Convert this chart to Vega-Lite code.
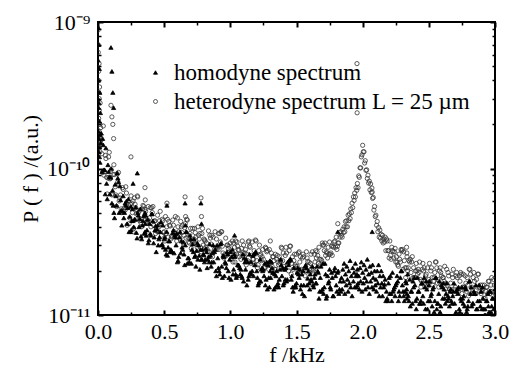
{
"$schema":"https://vega.github.io/schema/vega-lite/v6.json",
"width":397,"height":293,
"autosize":{"type":"none"},
"padding":{"left":98,"top":22,"right":24,"bottom":59},
"config":{
 "view":{"stroke":"black","strokeWidth":2},
 "font":"'Liberation Serif', 'Times New Roman', Times, serif",
 "axis":{"grid":false,"domain":false,"labelFont":"'Liberation Serif', 'Times New Roman', Times, serif","titleFont":"'Liberation Serif', 'Times New Roman', Times, serif","labelColor":"black","titleColor":"black","tickColor":"black","labelFontSize":22,"titleFontSize":22,"titleFontWeight":"normal"}
},
"data":{"values":[
{"f":0,"a":55e-11,"b":88e-11},{"f":0.002,"a":92e-11,"b":62e-11},{"f":0.004,"a":40e-11,"b":46e-11},{"f":0.006,"a":70e-11,"b":33e-11},{"f":0.008,"a":28e-11,"b":52e-11},{"f":0.01,"a":48e-11,"b":25e-11},{"f":0.012,"a":21e-11,"b":36e-11},{"f":0.014,"a":33e-11,"b":20e-11},{"f":0.016,"a":17e-11,"b":28e-11},{"f":0.018,"a":24e-11,"b":15e-11},
{"f":0.001,"a":30e-11,"b":70e-11},{"f":0.003,"a":18e-11,"b":40e-11},{"f":0.005,"a":26e-11,"b":22e-11},{"f":0.007,"a":13e-11,"b":18e-11},{"f":0.009,"a":16e-11,"b":30e-11},{"f":0.011,"a":12e-11,"b":14e-11},{"f":0.013,"a":14e-11,"b":17e-11},{"f":0.015,"a":11e-11,"b":13e-11},
{"f":0.02,"a":15e-11,"b":19e-11},{"f":0.03,"a":9.5e-11,"b":12.6e-11},{"f":0.04,"a":14.5e-11,"b":19.5e-11},{"f":0.05,"a":9.8e-11,"b":9.5e-11},{"f":0.06,"a":13.8e-11,"b":11.7e-11},{"f":0.07,"a":6.2e-11,"b":6.7e-11},{"f":0.08,"a":9.5e-11,"b":12e-11},{"f":0.09,"a":6.7e-11,"b":8.5e-11},{"f":0.1,"a":10e-11,"b":9.8e-11},{"f":0.11,"a":7.1e-11,"b":6.7e-11},{"f":0.12,"a":5.0e-11,"b":10.6e-11},{"f":0.13,"a":7.8e-11,"b":7.5e-11},{"f":0.14,"a":5.6e-11,"b":5.5e-11},{"f":0.15,"a":8.6e-11,"b":8.1e-11},{"f":0.16,"a":5.0e-11,"b":6.0e-11},{"f":0.17,"a":6.1e-11,"b":6.6e-11},{"f":0.18,"a":4.1e-11,"b":5.0e-11},{"f":0.19,"a":6.5e-11,"b":7.2e-11},{"f":0.2,"a":5.0e-11,"b":5.4e-11},{"f":0.21,"a":5.6e-11,"b":7.5e-11},{"f":0.22,"a":4.2e-11,"b":4.1e-11},{"f":0.23,"a":6.2e-11,"b":5.9e-11},{"f":0.24,"a":4.7e-11,"b":4.6e-11},{"f":0.25,"a":3.8e-11,"b":6.5e-11},{"f":0.26,"a":5.3e-11,"b":5.0e-11},{"f":0.27,"a":4.0e-11,"b":3.9e-11},
{"f":0.098,"a":67e-11,"b":27e-11},{"f":0.105,"a":46e-11,"b":22.5e-11},{"f":0.112,"a":33e-11,"b":20e-11},{"f":0.118,"a":26e-11,"b":16e-11},{"f":0.249,"a":5.5e-11,"b":12e-11},{"f":0.265,"a":7.9e-11,"b":6.0e-11},{"f":0.297,"a":9.3e-11,"b":6.5e-11},
{"f":0.28,"a":4.5e-11,"b":5.7e-11},{"f":0.29,"a":3.65e-11,"b":4.9e-11},{"f":0.3,"a":5.0e-11,"b":6.4e-11},{"f":0.31,"a":4.0e-11,"b":4.5e-11},{"f":0.32,"a":5.3e-11,"b":5.2e-11},{"f":0.33,"a":3.3e-11,"b":4.0e-11},{"f":0.34,"a":4.4e-11,"b":5.6e-11},{"f":0.35,"a":3.6e-11,"b":4.7e-11},{"f":0.36,"a":4.8e-11,"b":5.1e-11},{"f":0.37,"a":3.8e-11,"b":4.25e-11},{"f":0.38,"a":3.1e-11,"b":5.5e-11},{"f":0.39,"a":4.2e-11,"b":4.6e-11},{"f":0.4,"a":3.5e-11,"b":4.0e-11},{"f":0.41,"a":4.9e-11,"b":5.0e-11},{"f":0.42,"a":3.1e-11,"b":4.1e-11},{"f":0.43,"a":3.8e-11,"b":4.4e-11},{"f":0.44,"a":2.7e-11,"b":3.75e-11},{"f":0.45,"a":4.1e-11,"b":4.8e-11},{"f":0.46,"a":3.3e-11,"b":4.0e-11},{"f":0.47,"a":3.7e-11,"b":5.1e-11},{"f":0.48,"a":3.0e-11,"b":3.5e-11},{"f":0.49,"a":4.1e-11,"b":4.4e-11},{"f":0.5,"a":3.3e-11,"b":3.7e-11},{"f":0.51,"a":2.8e-11,"b":4.7e-11},{"f":0.52,"a":3.7e-11,"b":4.0e-11},{"f":0.53,"a":2.9e-11,"b":3.4e-11},
{"f":0.355,"a":5.0e-11,"b":7.4e-11},{"f":0.357,"a":4.2e-11,"b":6.1e-11},{"f":0.521,"a":5.6e-11,"b":5.8e-11},
{"f":0.54,"a":3.2e-11,"b":4.1e-11},{"f":0.55,"a":2.8e-11,"b":3.3e-11},{"f":0.56,"a":2.7e-11,"b":3.4e-11},{"f":0.57,"a":3.8e-11,"b":4.1e-11},{"f":0.58,"a":3.5e-11,"b":3.5e-11},{"f":0.59,"a":3.0e-11,"b":3.6e-11},{"f":0.6,"a":2.3e-11,"b":4.6e-11},{"f":0.61,"a":2.5e-11,"b":3.7e-11},{"f":0.62,"a":3.7e-11,"b":3.3e-11},{"f":0.63,"a":3.2e-11,"b":4.0e-11},{"f":0.64,"a":2.8e-11,"b":4.1e-11},{"f":0.65,"a":2.6e-11,"b":3.5e-11},{"f":0.66,"a":3.0e-11,"b":4.2e-11},{"f":0.67,"a":3.7e-11,"b":4.5e-11},{"f":0.68,"a":2.45e-11,"b":3.4e-11},{"f":0.69,"a":2.3e-11,"b":3.1e-11},{"f":0.7,"a":3.3e-11,"b":3.9e-11},{"f":0.71,"a":2.8e-11,"b":3.2e-11},{"f":0.72,"a":2.7e-11,"b":3.2e-11},{"f":0.73,"a":2.5e-11,"b":3.9e-11},{"f":0.74,"a":2.15e-11,"b":3.4e-11},{"f":0.75,"a":3.1e-11,"b":2.9e-11},{"f":0.76,"a":3.0e-11,"b":3.5e-11},{"f":0.77,"a":2.05e-11,"b":3.6e-11},{"f":0.78,"a":2.4e-11,"b":2.7e-11},{"f":0.79,"a":2.8e-11,"b":3.9e-11},
{"f":0.658,"a":5.8e-11,"b":6.4e-11},{"f":0.662,"a":4.1e-11,"b":4.7e-11},{"f":0.778,"a":5.8e-11,"b":6.3e-11},{"f":0.782,"a":4.2e-11,"b":4.7e-11},
{"f":0.8,"a":2.57e-11,"b":3.3e-11},{"f":0.81,"a":2.4e-11,"b":3.2e-11},{"f":0.82,"a":2.7e-11,"b":3.1e-11},{"f":0.83,"a":2.4e-11,"b":2.7e-11},{"f":0.84,"a":2.3e-11,"b":2.7e-11},{"f":0.85,"a":2.55e-11,"b":3.35e-11},{"f":0.86,"a":2.3e-11,"b":3.5e-11},{"f":0.87,"a":3.0e-11,"b":3.4e-11},{"f":0.88,"a":2.7e-11,"b":2.8e-11},{"f":0.89,"a":2.0e-11,"b":2.9e-11},{"f":0.9,"a":3.0e-11,"b":2.8e-11},{"f":0.91,"a":2.1e-11,"b":3.6e-11},{"f":0.92,"a":1.9e-11,"b":3.6e-11},{"f":0.93,"a":3.1e-11,"b":3.7e-11},{"f":0.94,"a":1.8e-11,"b":2.95e-11},{"f":0.95,"a":2.5e-11,"b":2.45e-11},{"f":0.96,"a":2.3e-11,"b":2.6e-11},{"f":0.97,"a":2.1e-11,"b":2.55e-11},{"f":0.98,"a":2.6e-11,"b":3.0e-11},{"f":0.99,"a":1.8e-11,"b":2.95e-11},{"f":1.0,"a":2.7e-11,"b":3.1e-11},{"f":1.01,"a":2.5e-11,"b":2.6e-11},{"f":1.02,"a":1.9e-11,"b":2.3e-11},{"f":1.03,"a":2.6e-11,"b":2.6e-11},{"f":1.04,"a":1.9e-11,"b":3.2e-11},{"f":1.05,"a":1.85e-11,"b":3.15e-11},
{"f":1.032,"a":3.5e-11,"b":2.9e-11},
{"f":1.06,"a":2.2e-11,"b":2.8e-11},{"f":1.07,"a":2.1e-11,"b":2.5e-11},{"f":1.08,"a":2.05e-11,"b":2.4e-11},{"f":1.09,"a":1.8e-11,"b":3.2e-11},{"f":1.1,"a":1.7e-11,"b":3.0e-11},{"f":1.11,"a":2.3e-11,"b":2.65e-11},{"f":1.12,"a":2.4e-11,"b":2.2e-11},{"f":1.13,"a":2.3e-11,"b":2.35e-11},{"f":1.14,"a":1.85e-11,"b":3.2e-11},{"f":1.15,"a":1.95e-11,"b":2.9e-11},{"f":1.16,"a":1.9e-11,"b":2.55e-11},{"f":1.17,"a":2.55e-11,"b":2.4e-11},{"f":1.18,"a":2.6e-11,"b":2.75e-11},{"f":1.19,"a":2.7e-11,"b":3.25e-11},{"f":1.2,"a":2.0e-11,"b":2.35e-11},{"f":1.21,"a":1.6e-11,"b":2.2e-11},{"f":1.22,"a":1.7e-11,"b":3.0e-11},{"f":1.23,"a":1.7e-11,"b":2.6e-11},{"f":1.24,"a":2.1e-11,"b":2.5e-11},{"f":1.25,"a":2.05e-11,"b":2.4e-11},{"f":1.26,"a":2.25e-11,"b":2.1e-11},{"f":1.27,"a":1.75e-11,"b":2.85e-11},{"f":1.28,"a":1.5e-11,"b":2.75e-11},{"f":1.29,"a":1.8e-11,"b":2.05e-11},{"f":1.3,"a":2.35e-11,"b":2.3e-11},{"f":1.31,"a":2.3e-11,"b":2.65e-11},
{"f":1.302,"a":2.0e-11,"b":3.2e-11},
{"f":1.32,"a":1.95e-11,"b":2.5e-11},{"f":1.33,"a":1.5e-11,"b":2.35e-11},{"f":1.34,"a":1.55e-11,"b":2.6e-11},{"f":1.35,"a":2.0e-11,"b":2.4e-11},{"f":1.36,"a":1.65e-11,"b":2.3e-11},{"f":1.37,"a":1.75e-11,"b":2.5e-11},{"f":1.38,"a":2.4e-11,"b":2.35e-11},{"f":1.39,"a":1.85e-11,"b":2.85e-11},{"f":1.4,"a":1.6e-11,"b":2.65e-11},{"f":1.41,"a":2.05e-11,"b":2.05e-11},{"f":1.42,"a":2.1e-11,"b":2.9e-11},{"f":1.43,"a":1.75e-11,"b":2.2e-11},{"f":1.44,"a":2.2e-11,"b":2.0e-11},{"f":1.45,"a":2.4e-11,"b":2.95e-11},{"f":1.46,"a":1.75e-11,"b":1.9e-11},{"f":1.47,"a":1.55e-11,"b":2.5e-11},{"f":1.48,"a":2.1e-11,"b":2.35e-11},{"f":1.49,"a":1.6e-11,"b":2.2e-11},{"f":1.5,"a":1.65e-11,"b":2.6e-11},{"f":1.51,"a":2.1e-11,"b":1.95e-11},{"f":1.52,"a":1.8e-11,"b":2.7e-11},{"f":1.53,"a":1.5e-11,"b":2.5e-11},{"f":1.54,"a":1.9e-11,"b":2.05e-11},{"f":1.55,"a":2.0e-11,"b":2.6e-11},{"f":1.56,"a":1.35e-11,"b":2.05e-11},{"f":1.57,"a":2.2e-11,"b":2.0e-11},
{"f":1.58,"a":1.6e-11,"b":2.45e-11},{"f":1.59,"a":2.0e-11,"b":2.15e-11},{"f":1.6,"a":1.5e-11,"b":1.95e-11},{"f":1.61,"a":1.75e-11,"b":2.6e-11},{"f":1.62,"a":2.15e-11,"b":2.7e-11},{"f":1.63,"a":1.55e-11,"b":2.05e-11},{"f":1.64,"a":1.9e-11,"b":2.3e-11},{"f":1.65,"a":1.65e-11,"b":2.45e-11},{"f":1.66,"a":2.0e-11,"b":2.55e-11},{"f":1.67,"a":1.3e-11,"b":2.9e-11},{"f":1.68,"a":1.8e-11,"b":2.2e-11},{"f":1.69,"a":1.45e-11,"b":2.35e-11},{"f":1.7,"a":2.25e-11,"b":3.0e-11},{"f":1.71,"a":1.55e-11,"b":2.75e-11},{"f":1.72,"a":1.9e-11,"b":2.55e-11},{"f":1.73,"a":1.35e-11,"b":2.65e-11},{"f":1.74,"a":1.65e-11,"b":2.9e-11},{"f":1.75,"a":2.05e-11,"b":3.15e-11},{"f":1.76,"a":1.5e-11,"b":2.65e-11},{"f":1.77,"a":1.8e-11,"b":2.55e-11},{"f":1.78,"a":1.35e-11,"b":2.9e-11},{"f":1.79,"a":2.1e-11,"b":3.2e-11},{"f":1.8,"a":1.6e-11,"b":3.4e-11},{"f":1.81,"a":1.95e-11,"b":2.95e-11},{"f":1.82,"a":1.4e-11,"b":3.1e-11},{"f":1.83,"a":1.7e-11,"b":3.4e-11},
{"f":1.812,"a":3.7e-11,"b":4.2e-11},
{"f":1.84,"a":1.8e-11,"b":3.5e-11},{"f":1.845,"a":1.5e-11,"b":3.4e-11},{"f":1.85,"a":2.05e-11,"b":3.85e-11},{"f":1.855,"a":1.7e-11,"b":3.65e-11},{"f":1.86,"a":2.25e-11,"b":4.0e-11},{"f":1.865,"a":1.4e-11,"b":3.7e-11},{"f":1.87,"a":1.9e-11,"b":4.35e-11},{"f":1.875,"a":1.6e-11,"b":4.0e-11},{"f":1.88,"a":2.15e-11,"b":4.4e-11},{"f":1.885,"a":1.75e-11,"b":4.0e-11},{"f":1.89,"a":1.45e-11,"b":4.8e-11},{"f":1.895,"a":2.0e-11,"b":4.4e-11},{"f":1.9,"a":1.65e-11,"b":4.9e-11},{"f":1.905,"a":2.35e-11,"b":4.55e-11},{"f":1.91,"a":1.55e-11,"b":5.3e-11},{"f":1.915,"a":1.85e-11,"b":5.0e-11},{"f":1.92,"a":1.35e-11,"b":5.8e-11},{"f":1.925,"a":2.1e-11,"b":5.4e-11},{"f":1.93,"a":1.7e-11,"b":6.4e-11},{"f":1.935,"a":1.95e-11,"b":6.05e-11},{"f":1.94,"a":1.55e-11,"b":6.8e-11},{"f":1.945,"a":2.25e-11,"b":6.4e-11},{"f":1.95,"a":1.85e-11,"b":7.4e-11},{"f":1.955,"a":1.55e-11,"b":7.1e-11},{"f":1.96,"a":2.05e-11,"b":7.9e-11},{"f":1.965,"a":1.65e-11,"b":7.4e-11},{"f":1.97,"a":1.85e-11,"b":8.9e-11},{"f":1.975,"a":1.5e-11,"b":8.7e-11},{"f":1.98,"a":2.1e-11,"b":10.1e-11},{"f":1.985,"a":1.7e-11,"b":10.1e-11},{"f":1.99,"a":2.3e-11,"b":12.0e-11},{"f":1.995,"a":1.45e-11,"b":12.4e-11},{"f":2.0,"a":1.95e-11,"b":14.4e-11},{"f":2.005,"a":1.65e-11,"b":13.0e-11},{"f":2.01,"a":2.2e-11,"b":13.0e-11},{"f":2.015,"a":1.8e-11,"b":10.9e-11},{"f":2.02,"a":1.5e-11,"b":11.3e-11},{"f":2.025,"a":2.05e-11,"b":9.7e-11},{"f":2.03,"a":1.7e-11,"b":9.8e-11},{"f":2.035,"a":2.4e-11,"b":8.55e-11},{"f":2.04,"a":1.55e-11,"b":9.0e-11},{"f":2.045,"a":1.9e-11,"b":7.95e-11},{"f":2.05,"a":1.4e-11,"b":8.2e-11},{"f":2.055,"a":2.15e-11,"b":7.15e-11},{"f":2.06,"a":1.7e-11,"b":7.85e-11},{"f":2.065,"a":1.95e-11,"b":6.85e-11},{"f":2.07,"a":1.55e-11,"b":7.35e-11},{"f":2.075,"a":2.2e-11,"b":6.25e-11},{"f":2.08,"a":1.8e-11,"b":6.35e-11},{"f":2.085,"a":1.5e-11,"b":5.2e-11},{"f":2.09,"a":2.0e-11,"b":5.5e-11},{"f":2.095,"a":1.6e-11,"b":4.7e-11},{"f":2.1,"a":1.75e-11,"b":4.8e-11},{"f":2.105,"a":1.45e-11,"b":4.1e-11},{"f":2.11,"a":2.0e-11,"b":4.35e-11},{"f":2.115,"a":1.65e-11,"b":3.7e-11},{"f":2.12,"a":2.2e-11,"b":3.95e-11},{"f":2.125,"a":1.35e-11,"b":3.4e-11},{"f":2.13,"a":1.85e-11,"b":3.8e-11},{"f":2.135,"a":1.55e-11,"b":3.35e-11},{"f":2.14,"a":2.0e-11,"b":3.55e-11},{"f":2.145,"a":1.65e-11,"b":3.2e-11},{"f":2.15,"a":1.35e-11,"b":3.5e-11},{"f":2.155,"a":1.85e-11,"b":3.1e-11},{"f":2.16,"a":1.55e-11,"b":3.3e-11},
{"f":1.957,"a":1.9e-11,"b":52e-11},{"f":1.958,"a":1.6e-11,"b":24e-11},{"f":2.072,"a":3.7e-11,"b":6.9e-11},
{"f":2.17,"a":1.75e-11,"b":3.4e-11},{"f":2.18,"a":1.45e-11,"b":3.3e-11},{"f":2.19,"a":1.25e-11,"b":2.75e-11},{"f":2.2,"a":1.8e-11,"b":2.45e-11},{"f":2.21,"a":1.85e-11,"b":2.55e-11},{"f":2.22,"a":1.25e-11,"b":2.9e-11},{"f":2.23,"a":1.45e-11,"b":2.7e-11},{"f":2.24,"a":1.55e-11,"b":2.7e-11},{"f":2.25,"a":1.6e-11,"b":2.3e-11},{"f":2.26,"a":1.85e-11,"b":2.3e-11},{"f":2.27,"a":1.25e-11,"b":2.15e-11},{"f":2.28,"a":1.35e-11,"b":2.4e-11},{"f":2.29,"a":2.0e-11,"b":2.8e-11},{"f":2.3,"a":1.6e-11,"b":2.8e-11},{"f":2.31,"a":1.35e-11,"b":2.7e-11},{"f":2.32,"a":1.45e-11,"b":2.1e-11},{"f":2.33,"a":1.65e-11,"b":2.1e-11},{"f":2.34,"a":1.9e-11,"b":2.0e-11},{"f":2.35,"a":1.25e-11,"b":2.35e-11},{"f":2.36,"a":1.15e-11,"b":2.4e-11},{"f":2.37,"a":1.45e-11,"b":2.3e-11},{"f":2.38,"a":1.7e-11,"b":1.8e-11},{"f":2.39,"a":1.8e-11,"b":1.8e-11},{"f":2.4,"a":1.25e-11,"b":2.0e-11},{"f":2.41,"a":1.3e-11,"b":2.0e-11},{"f":2.42,"a":1.45e-11,"b":2.05e-11},
{"f":2.332,"a":1.5e-11,"b":2.9e-11},{"f":2.334,"a":1.4e-11,"b":2.65e-11},
{"f":2.43,"a":1.2e-11,"b":2.3e-11},{"f":2.44,"a":1.25e-11,"b":1.55e-11},{"f":2.45,"a":1.65e-11,"b":2.05e-11},{"f":2.46,"a":1.2e-11,"b":2.0e-11},{"f":2.47,"a":1.55e-11,"b":1.65e-11},{"f":2.48,"a":1.7e-11,"b":1.9e-11},{"f":2.49,"a":1.1e-11,"b":2.1e-11},{"f":2.5,"a":1.6e-11,"b":1.75e-11},{"f":2.51,"a":1.25e-11,"b":1.7e-11},{"f":2.52,"a":1.4e-11,"b":2.1e-11},{"f":2.53,"a":1.5e-11,"b":1.6e-11},{"f":2.54,"a":1.05e-11,"b":1.8e-11},{"f":2.55,"a":1.8e-11,"b":2.3e-11},{"f":2.56,"a":1.1e-11,"b":2.1e-11},{"f":2.57,"a":1.2e-11,"b":1.75e-11},{"f":2.58,"a":1.7e-11,"b":2.0e-11},{"f":2.59,"a":1.15e-11,"b":1.95e-11},{"f":2.6,"a":1.55e-11,"b":1.6e-11},{"f":2.61,"a":1.65e-11,"b":1.8e-11},{"f":2.62,"a":1.3e-11,"b":2.15e-11},{"f":2.63,"a":1.4e-11,"b":1.65e-11},{"f":2.64,"a":1.25e-11,"b":1.6e-11},{"f":2.65,"a":1.3e-11,"b":1.85e-11},{"f":2.66,"a":1.45e-11,"b":1.5e-11},{"f":2.67,"a":1.25e-11,"b":1.45e-11},{"f":2.68,"a":1.35e-11,"b":1.8e-11},
{"f":2.69,"a":1.65e-11,"b":1.5e-11},{"f":2.7,"a":1.0e-11,"b":1.55e-11},{"f":2.71,"a":1.45e-11,"b":1.95e-11},{"f":2.72,"a":1.4e-11,"b":1.5e-11},{"f":2.73,"a":1.1e-11,"b":1.85e-11},{"f":2.74,"a":1.3e-11,"b":1.95e-11},{"f":2.75,"a":1.55e-11,"b":1.4e-11},{"f":2.76,"a":1.2e-11,"b":1.9e-11},{"f":2.77,"a":1.15e-11,"b":1.55e-11},{"f":2.78,"a":1.5e-11,"b":1.65e-11},{"f":2.79,"a":1.1e-11,"b":1.8e-11},{"f":2.8,"a":1.25e-11,"b":1.35e-11},{"f":2.81,"a":1.7e-11,"b":2.05e-11},{"f":2.82,"a":1.55e-11,"b":1.4e-11},{"f":2.83,"a":1.2e-11,"b":1.5e-11},{"f":2.84,"a":1.45e-11,"b":1.95e-11},{"f":2.85,"a":1.4e-11,"b":1.4e-11},{"f":2.86,"a":1.1e-11,"b":1.75e-11},{"f":2.87,"a":1.25e-11,"b":1.9e-11},{"f":2.88,"a":1.6e-11,"b":1.55e-11},{"f":2.89,"a":1.15e-11,"b":1.6e-11},{"f":2.9,"a":1.1e-11,"b":1.45e-11},{"f":2.91,"a":1.3e-11,"b":1.5e-11},{"f":2.92,"a":1.0e-11,"b":1.6e-11},{"f":2.93,"a":1.0e-11,"b":1.45e-11},{"f":2.94,"a":1.25e-11,"b":1.55e-11},
{"f":2.95,"a":1.15e-11,"b":1.7e-11},{"f":2.96,"a":1.45e-11,"b":1.4e-11},{"f":2.97,"a":1.05e-11,"b":1.6e-11},{"f":2.98,"a":1.3e-11,"b":1.45e-11},{"f":2.99,"a":1.1e-11,"b":1.75e-11},{"f":3.0,"a":1.5e-11,"b":1.4e-11},
{"f":0.025,"a":17.4e-11,"b":15.7e-11},{"f":0.035,"a":16e-11,"b":9.4e-11},{"f":0.045,"a":9.8e-11,"b":9.0e-11},{"f":0.055,"a":6.7e-11,"b":12.3e-11},{"f":0.065,"a":7.9e-11,"b":8.7e-11},{"f":0.075,"a":10.6e-11,"b":8.6e-11},{"f":0.085,"a":8.8e-11,"b":12.9e-11},{"f":0.095,"a":8.7e-11,"b":8.6e-11},{"f":0.105,"a":5.8e-11,"b":6.6e-11},{"f":0.115,"a":5.6e-11,"b":9.1e-11},{"f":0.125,"a":4.6e-11,"b":9.1e-11},{"f":0.135,"a":6.5e-11,"b":6.6e-11},{"f":0.145,"a":9.3e-11,"b":9.2e-11},{"f":0.155,"a":8.1e-11,"b":9.4e-11},{"f":0.165,"a":7.6e-11,"b":6.3e-11},{"f":0.175,"a":5.2e-11,"b":5.3e-11},{"f":0.185,"a":5.1e-11,"b":7.4e-11},{"f":0.195,"a":4.6e-11,"b":5.1e-11},{"f":0.205,"a":5.8e-11,"b":5.2e-11},{"f":0.215,"a":6.0e-11,"b":6.8e-11},{"f":0.225,"a":5.4e-11,"b":5.4e-11},{"f":0.235,"a":3.7e-11,"b":4.2e-11},{"f":0.245,"a":3.7e-11,"b":5.7e-11},{"f":0.255,"a":4.4e-11,"b":5.8e-11},{"f":0.265,"a":4.4e-11,"b":3.7e-11},{"f":0.275,"a":4.5e-11,"b":6.3e-11},
{"f":0.285,"a":5.45e-11,"b":5.4e-11},{"f":0.295,"a":3.35e-11,"b":5.2e-11},{"f":0.305,"a":4.8e-11,"b":5.0e-11},{"f":0.315,"a":4.55e-11,"b":4.4e-11},{"f":0.325,"a":3.45e-11,"b":4.25e-11},{"f":0.335,"a":4.1e-11,"b":5.3e-11},{"f":0.345,"a":4.75e-11,"b":5.5e-11},{"f":0.355,"a":3.7e-11,"b":5.25e-11},{"f":0.365,"a":3.5e-11,"b":4.3e-11},{"f":0.375,"a":4.5e-11,"b":4.45e-11},{"f":0.385,"a":3.25e-11,"b":4.3e-11},{"f":0.395,"a":3.6e-11,"b":5.4e-11},{"f":0.405,"a":4.9e-11,"b":5.4e-11},{"f":0.415,"a":4.4e-11,"b":5.5e-11},{"f":0.425,"a":3.4e-11,"b":4.35e-11},{"f":0.435,"a":4.05e-11,"b":3.6e-11},{"f":0.445,"a":3.85e-11,"b":3.75e-11},{"f":0.455,"a":3.0e-11,"b":3.7e-11},{"f":0.465,"a":3.4e-11,"b":4.4e-11},{"f":0.475,"a":4.3e-11,"b":4.2e-11},{"f":0.485,"a":3.05e-11,"b":4.5e-11},{"f":0.495,"a":2.9e-11,"b":3.65e-11},{"f":0.505,"a":3.4e-11,"b":3.2e-11},{"f":0.515,"a":2.6e-11,"b":3.6e-11},{"f":0.525,"a":2.55e-11,"b":4.5e-11},{"f":0.535,"a":3.2e-11,"b":4.35e-11},
{"f":0.545,"a":2.7e-11,"b":4.05e-11},{"f":0.555,"a":2.75e-11,"b":3.45e-11},{"f":0.565,"a":3.65e-11,"b":4.45e-11},{"f":0.575,"a":2.65e-11,"b":3.7e-11},{"f":0.585,"a":3.4e-11,"b":4.7e-11},{"f":0.595,"a":3.6e-11,"b":3.2e-11},{"f":0.605,"a":2.35e-11,"b":4.0e-11},{"f":0.615,"a":3.4e-11,"b":3.45e-11},{"f":0.625,"a":2.65e-11,"b":4.35e-11},{"f":0.635,"a":2.9e-11,"b":3.65e-11},{"f":0.645,"a":3.15e-11,"b":3.1e-11},{"f":0.655,"a":2.2e-11,"b":3.95e-11},{"f":0.665,"a":3.7e-11,"b":3.35e-11},{"f":0.675,"a":2.25e-11,"b":4.45e-11},{"f":0.685,"a":2.45e-11,"b":3.15e-11},{"f":0.695,"a":3.5e-11,"b":3.6e-11},{"f":0.705,"a":2.25e-11,"b":2.85e-11},{"f":0.715,"a":3.05e-11,"b":3.9e-11},{"f":0.725,"a":3.3e-11,"b":3.3e-11},{"f":0.735,"a":2.55e-11,"b":3.65e-11},{"f":0.745,"a":2.75e-11,"b":3.05e-11},{"f":0.755,"a":2.4e-11,"b":4.0e-11},{"f":0.765,"a":2.55e-11,"b":3.3e-11},{"f":0.775,"a":2.8e-11,"b":2.9e-11},{"f":0.785,"a":2.4e-11,"b":3.6e-11},{"f":0.795,"a":2.6e-11,"b":3.0e-11},
{"f":0.805,"a":2.3e-11,"b":3.25e-11},{"f":0.815,"a":2.85e-11,"b":2.9e-11},{"f":0.825,"a":2.1e-11,"b":2.8e-11},{"f":0.835,"a":2.5e-11,"b":3.75e-11},{"f":0.845,"a":3.05e-11,"b":3.5e-11},{"f":0.855,"a":2.15e-11,"b":3.05e-11},{"f":0.865,"a":2.65e-11,"b":2.5e-11},{"f":0.875,"a":2.3e-11,"b":2.7e-11},{"f":0.885,"a":2.8e-11,"b":3.7e-11},{"f":0.895,"a":1.85e-11,"b":3.3e-11},{"f":0.905,"a":2.45e-11,"b":2.9e-11},{"f":0.915,"a":2.0e-11,"b":2.8e-11},{"f":0.925,"a":3.05e-11,"b":3.15e-11},{"f":0.935,"a":2.15e-11,"b":3.7e-11},{"f":0.945,"a":2.55e-11,"b":2.65e-11},{"f":0.955,"a":1.85e-11,"b":2.5e-11},{"f":0.965,"a":2.25e-11,"b":3.35e-11},{"f":0.975,"a":2.7e-11,"b":3.0e-11},{"f":0.985,"a":2.0e-11,"b":2.85e-11},{"f":0.995,"a":2.4e-11,"b":2.7e-11},{"f":1.005,"a":1.75e-11,"b":2.4e-11},{"f":1.015,"a":2.8e-11,"b":3.2e-11},{"f":1.025,"a":2.05e-11,"b":3.1e-11},{"f":1.035,"a":2.5e-11,"b":2.3e-11},{"f":1.045,"a":1.8e-11,"b":2.6e-11},{"f":1.055,"a":2.2e-11,"b":2.95e-11},
{"f":1.065,"a":2.18e-11,"b":2.77e-11},{"f":1.075,"a":1.9e-11,"b":2.6e-11},{"f":1.085,"a":1.85e-11,"b":2.85e-11},{"f":1.095,"a":2.6e-11,"b":2.65e-11},{"f":1.105,"a":2.45e-11,"b":2.5e-11},{"f":1.115,"a":2.05e-11,"b":2.8e-11},{"f":1.125,"a":1.6e-11,"b":2.6e-11},{"f":1.135,"a":1.75e-11,"b":3.15e-11},{"f":1.145,"a":2.6e-11,"b":2.95e-11},{"f":1.155,"a":2.3e-11,"b":2.25e-11},{"f":1.165,"a":2.0e-11,"b":3.15e-11},{"f":1.175,"a":1.85e-11,"b":2.4e-11},{"f":1.185,"a":2.2e-11,"b":2.2e-11},{"f":1.195,"a":2.65e-11,"b":3.2e-11},{"f":1.205,"a":1.8e-11,"b":2.1e-11},{"f":1.215,"a":1.65e-11,"b":2.75e-11},{"f":1.225,"a":2.4e-11,"b":2.55e-11},{"f":1.235,"a":2.05e-11,"b":2.35e-11},{"f":1.245,"a":2.0e-11,"b":2.8e-11},{"f":1.255,"a":1.85e-11,"b":2.1e-11},{"f":1.265,"a":1.6e-11,"b":2.9e-11},{"f":1.275,"a":2.3e-11,"b":2.7e-11},{"f":1.285,"a":2.2e-11,"b":2.2e-11},{"f":1.295,"a":1.55e-11,"b":2.8e-11},{"f":1.305,"a":1.8e-11,"b":2.25e-11},{"f":1.315,"a":2.1e-11,"b":2.15e-11},
{"f":1.325,"a":1.95e-11,"b":2.5e-11},{"f":1.335,"a":1.9e-11,"b":2.05e-11},{"f":1.345,"a":1.85e-11,"b":2.05e-11},{"f":1.355,"a":1.6e-11,"b":2.55e-11},{"f":1.365,"a":1.55e-11,"b":2.2e-11},{"f":1.375,"a":2.05e-11,"b":2.25e-11},{"f":1.385,"a":2.2e-11,"b":2.9e-11},{"f":1.395,"a":2.1e-11,"b":2.35e-11},{"f":1.405,"a":1.65e-11,"b":2.15e-11},{"f":1.415,"a":1.75e-11,"b":2.55e-11},{"f":1.425,"a":1.7e-11,"b":2.65e-11},{"f":1.435,"a":2.3e-11,"b":2.25e-11},{"f":1.445,"a":2.35e-11,"b":2.75e-11},{"f":1.455,"a":2.4e-11,"b":2.95e-11},{"f":1.465,"a":1.85e-11,"b":2.25e-11},{"f":1.475,"a":1.45e-11,"b":2.05e-11},{"f":1.485,"a":1.55e-11,"b":2.6e-11},{"f":1.495,"a":1.55e-11,"b":2.15e-11},{"f":1.505,"a":1.95e-11,"b":2.15e-11},{"f":1.515,"a":1.9e-11,"b":2.65e-11},{"f":1.525,"a":2.05e-11,"b":2.3e-11},{"f":1.535,"a":1.6e-11,"b":2.0e-11},{"f":1.545,"a":1.4e-11,"b":2.45e-11},{"f":1.555,"a":1.6e-11,"b":2.5e-11},{"f":1.565,"a":2.15e-11,"b":1.85e-11},{"f":1.575,"a":2.1e-11,"b":2.7e-11},
{"f":1.585,"a":1.78e-11,"b":2.32e-11},{"f":1.595,"a":1.65e-11,"b":2.3e-11},{"f":1.605,"a":1.9e-11,"b":2.25e-11},{"f":1.615,"a":1.7e-11,"b":2.05e-11},{"f":1.625,"a":1.6e-11,"b":2.0e-11},{"f":1.635,"a":1.8e-11,"b":2.6e-11},{"f":1.645,"a":1.65e-11,"b":2.75e-11},{"f":1.655,"a":2.15e-11,"b":2.7e-11},{"f":1.665,"a":1.95e-11,"b":2.25e-11},{"f":1.675,"a":1.45e-11,"b":2.4e-11},{"f":1.685,"a":2.15e-11,"b":2.4e-11},{"f":1.695,"a":1.5e-11,"b":3.1e-11},{"f":1.705,"a":1.4e-11,"b":3.0e-11},{"f":1.715,"a":2.25e-11,"b":3.1e-11},{"f":1.725,"a":1.3e-11,"b":2.7e-11},{"f":1.735,"a":1.85e-11,"b":2.45e-11},{"f":1.745,"a":1.7e-11,"b":2.6e-11},{"f":1.755,"a":1.55e-11,"b":2.6e-11},{"f":1.765,"a":1.95e-11,"b":2.95e-11},{"f":1.775,"a":1.35e-11,"b":2.95e-11},{"f":1.785,"a":2.0e-11,"b":3.15e-11},{"f":1.795,"a":1.85e-11,"b":2.9e-11},{"f":1.805,"a":1.45e-11,"b":2.8e-11},{"f":1.815,"a":2.0e-11,"b":3.1e-11},{"f":1.825,"a":1.5e-11,"b":3.65e-11},{"f":1.835,"a":1.45e-11,"b":3.7e-11},
{"f":2.165,"a":1.62e-11,"b":3.15e-11},{"f":2.175,"a":1.25e-11,"b":2.75e-11},{"f":2.185,"a":1.3e-11,"b":3.2e-11},{"f":2.195,"a":1.65e-11,"b":2.75e-11},{"f":2.205,"a":1.4e-11,"b":3.2e-11},{"f":2.215,"a":1.4e-11,"b":2.4e-11},{"f":2.225,"a":1.95e-11,"b":2.75e-11},{"f":2.235,"a":1.5e-11,"b":2.45e-11},{"f":2.245,"a":1.35e-11,"b":2.85e-11},{"f":2.255,"a":1.65e-11,"b":2.5e-11},{"f":2.265,"a":1.7e-11,"b":2.2e-11},{"f":2.275,"a":1.45e-11,"b":2.6e-11},{"f":2.285,"a":1.8e-11,"b":2.3e-11},{"f":2.295,"a":2.0e-11,"b":2.75e-11},{"f":2.305,"a":1.45e-11,"b":2.05e-11},{"f":2.315,"a":1.25e-11,"b":2.35e-11},{"f":2.325,"a":1.7e-11,"b":1.8e-11},{"f":2.335,"a":1.3e-11,"b":2.5e-11},{"f":2.345,"a":1.35e-11,"b":2.1e-11},{"f":2.355,"a":1.75e-11,"b":2.3e-11},{"f":2.365,"a":1.45e-11,"b":1.95e-11},{"f":2.375,"a":1.2e-11,"b":2.5e-11},{"f":2.385,"a":1.55e-11,"b":2.1e-11},{"f":2.395,"a":1.6e-11,"b":1.8e-11},{"f":2.405,"a":1.1e-11,"b":2.25e-11},{"f":2.415,"a":1.8e-11,"b":1.9e-11},
{"f":2.425,"a":1.45e-11,"b":1.95e-11},{"f":2.435,"a":1.2e-11,"b":1.75e-11},{"f":2.445,"a":1.65e-11,"b":1.7e-11},{"f":2.455,"a":1.35e-11,"b":2.25e-11},{"f":2.465,"a":1.8e-11,"b":2.1e-11},{"f":2.475,"a":1.1e-11,"b":1.85e-11},{"f":2.485,"a":1.5e-11,"b":1.55e-11},{"f":2.495,"a":1.25e-11,"b":1.65e-11},{"f":2.505,"a":1.7e-11,"b":2.25e-11},{"f":2.515,"a":1.35e-11,"b":2.0e-11},{"f":2.525,"a":1.15e-11,"b":1.8e-11},{"f":2.535,"a":1.55e-11,"b":1.7e-11},{"f":2.545,"a":1.25e-11,"b":1.95e-11},{"f":2.555,"a":1.8e-11,"b":2.3e-11},{"f":2.565,"a":1.2e-11,"b":1.65e-11},{"f":2.575,"a":1.4e-11,"b":1.55e-11},{"f":2.585,"a":1.05e-11,"b":2.1e-11},{"f":2.595,"a":1.6e-11,"b":1.85e-11},{"f":2.605,"a":1.3e-11,"b":1.8e-11},{"f":2.615,"a":1.5e-11,"b":1.7e-11},{"f":2.625,"a":1.2e-11,"b":1.5e-11},{"f":2.635,"a":1.65e-11,"b":2.05e-11},{"f":2.645,"a":1.35e-11,"b":1.95e-11},{"f":2.655,"a":1.15e-11,"b":1.5e-11},{"f":2.665,"a":1.5e-11,"b":1.65e-11},{"f":2.675,"a":1.2e-11,"b":1.9e-11},
{"f":2.685,"a":1.45e-11,"b":2.05e-11},{"f":2.695,"a":1.2e-11,"b":1.4e-11},{"f":2.705,"a":1.05e-11,"b":1.85e-11},{"f":2.715,"a":1.5e-11,"b":1.8e-11},{"f":2.725,"a":1.55e-11,"b":1.45e-11},{"f":2.735,"a":1.05e-11,"b":1.7e-11},{"f":2.745,"a":1.25e-11,"b":1.9e-11},{"f":2.755,"a":1.3e-11,"b":1.55e-11},{"f":2.765,"a":1.35e-11,"b":1.5e-11},{"f":2.775,"a":1.55e-11,"b":1.85e-11},{"f":2.785,"a":1.05e-11,"b":1.45e-11},{"f":2.795,"a":1.15e-11,"b":1.6e-11},{"f":2.805,"a":1.7e-11,"b":2.05e-11},{"f":2.815,"a":1.4e-11,"b":1.9e-11},{"f":2.825,"a":1.15e-11,"b":1.55e-11},{"f":2.835,"a":1.2e-11,"b":1.8e-11},{"f":2.845,"a":1.4e-11,"b":1.7e-11},{"f":2.855,"a":1.6e-11,"b":1.4e-11},{"f":2.865,"a":1.1e-11,"b":1.55e-11},{"f":2.875,"a":0.97e-11,"b":1.9e-11},{"f":2.885,"a":1.25e-11,"b":1.45e-11},{"f":2.895,"a":1.45e-11,"b":1.4e-11},{"f":2.905,"a":1.55e-11,"b":1.6e-11},{"f":2.915,"a":1.1e-11,"b":1.3e-11},{"f":2.925,"a":1.1e-11,"b":1.3e-11},{"f":2.935,"a":1.25e-11,"b":1.55e-11},
{"f":2.945,"a":1.4e-11,"b":1.4e-11},{"f":2.955,"a":1.05e-11,"b":1.7e-11},{"f":2.965,"a":1.45e-11,"b":1.45e-11},{"f":2.975,"a":1.15e-11,"b":1.8e-11},{"f":2.985,"a":1.3e-11,"b":1.35e-11},{"f":2.995,"a":1.0e-11,"b":1.6e-11}
]},
"transform":[{"fold":["b","a"],"as":["series","p"]}],
"resolve":{"axis":{"x":"independent","y":"independent"}},
"layer":[
 {"mark":{"type":"point","size":18,"strokeWidth":0.8,"opacity":1,"clip":true},
  "encoding":{
   "x":{"field":"f","type":"quantitative","scale":{"domain":[0,3],"nice":false,"zero":false},
        "axis":{"orient":"bottom","values":[0,0.5,1,1.5,2,2.5,3],"format":".1f","ticks":false,"labelFlush":false,"labelPadding":6,"title":"f /kHz","titlePadding":2}},
   "y":{"field":"p","type":"quantitative","scale":{"type":"log","domain":[1e-11,1e-9],"nice":false},
        "axis":{"orient":"left","values":[1e-11,1e-10,1e-9],"ticks":false,"labelPadding":8,"labelExpr":"datum.value < 5e-11 ? '10⁻¹¹' : datum.value < 5e-10 ? '10⁻¹⁰' : '10⁻⁹'","title":"P ( f ) /(a.u.)","titlePadding":4}},
   "shape":{"field":"series","type":"nominal","scale":{"domain":["a","b"],"range":["triangle-up","circle"]},
     "legend":{"title":null,"orient":"none","legendX":46,"legendY":39,"padding":0,"labelExpr":"datum.value == 'a' ? 'homodyne spectrum' : 'heterodyne spectrum L = 25 µm'","labelFont":"'Liberation Serif', 'Times New Roman', Times, serif","labelFontSize":23,"labelColor":"black","labelLimit":0,"labelOffset":7,"rowPadding":5,"symbolSize":16,"symbolStrokeWidth":0.8}},
   "fill":{"field":"series","type":"nominal","scale":{"domain":["a","b"],"range":["black","transparent"]},
     "legend":{"title":null,"orient":"none","legendX":46,"legendY":39,"padding":0,"labelExpr":"datum.value == 'a' ? 'homodyne spectrum' : 'heterodyne spectrum L = 25 µm'","labelFont":"'Liberation Serif', 'Times New Roman', Times, serif","labelFontSize":23,"labelColor":"black","labelLimit":0,"labelOffset":7,"rowPadding":5,"symbolSize":16,"symbolStrokeWidth":0.8}},
   "stroke":{"field":"series","type":"nominal","scale":{"domain":["a","b"],"range":["black","#333333"]},
     "legend":{"title":null,"orient":"none","legendX":46,"legendY":39,"padding":0,"labelExpr":"datum.value == 'a' ? 'homodyne spectrum' : 'heterodyne spectrum L = 25 µm'","labelFont":"'Liberation Serif', 'Times New Roman', Times, serif","labelFontSize":23,"labelColor":"black","labelLimit":0,"labelOffset":7,"rowPadding":5,"symbolSize":16,"symbolStrokeWidth":0.8}},
   "order":{"field":"series","sort":"descending"}
  }},
 {"transform":[{"filter":"datum.f > 2.999"}],
  "mark":{"type":"point","opacity":0},
  "encoding":{
   "x":{"field":"f","type":"quantitative","axis":{"orient":"bottom","values":[0,0.5,1,1.5,2,2.5,3],"labels":false,"title":null,"tickSize":-5,"tickWidth":2}},
   "y":{"field":"p","type":"quantitative","axis":{"orient":"left","values":[1e-11,1e-10,1e-9],"labels":false,"title":null,"tickSize":-5,"tickWidth":2}}
  }},
 {"transform":[{"filter":"datum.f > 2.999"}],
  "mark":{"type":"point","opacity":0},
  "encoding":{
   "x":{"field":"f","type":"quantitative","axis":{"orient":"top","values":[0,0.5,1,1.5,2,2.5,3],"labels":false,"title":null,"tickSize":-5,"tickWidth":2}},
   "y":{"field":"p","type":"quantitative","axis":{"orient":"right","values":[1e-11,1e-10,1e-9],"labels":false,"title":null,"tickSize":-5,"tickWidth":2}}
  }},
 {"transform":[{"filter":"datum.f > 2.999"}],
  "mark":{"type":"point","opacity":0},
  "encoding":{
   "x":{"field":"f","type":"quantitative","axis":{"orient":"bottom","values":[0.25,0.75,1.25,1.75,2.25,2.75],"labels":false,"title":null,"tickSize":-3,"tickWidth":1.5}},
   "y":{"field":"p","type":"quantitative","axis":{"orient":"left","values":[2e-11,3e-11,4e-11,5e-11,6e-11,7e-11,8e-11,9e-11,2e-10,3e-10,4e-10,5e-10,6e-10,7e-10,8e-10,9e-10],"labels":false,"title":null,"tickSize":-3,"tickWidth":1.5}}
  }},
 {"transform":[{"filter":"datum.f > 2.999"}],
  "mark":{"type":"point","opacity":0},
  "encoding":{
   "x":{"field":"f","type":"quantitative","axis":{"orient":"top","values":[0.25,0.75,1.25,1.75,2.25,2.75],"labels":false,"title":null,"tickSize":-3,"tickWidth":1.5}},
   "y":{"field":"p","type":"quantitative","axis":{"orient":"right","values":[2e-11,3e-11,4e-11,5e-11,6e-11,7e-11,8e-11,9e-11,2e-10,3e-10,4e-10,5e-10,6e-10,7e-10,8e-10,9e-10],"labels":false,"title":null,"tickSize":-3,"tickWidth":1.5}}
  }}
]
}
